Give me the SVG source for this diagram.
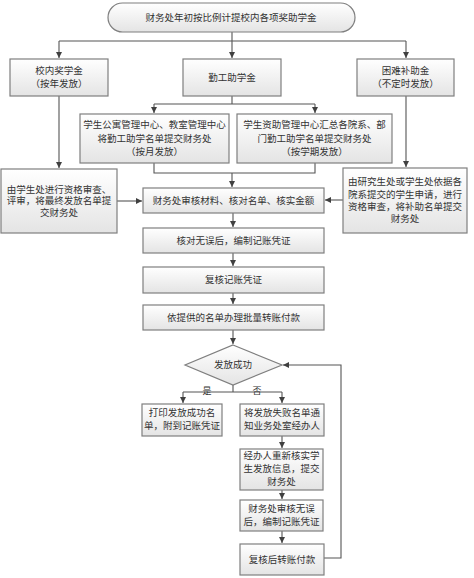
<svg xmlns="http://www.w3.org/2000/svg" width="474" height="578" viewBox="0 0 474 578">
<defs>
<linearGradient id="g" x1="0" y1="0" x2="0" y2="1">
<stop offset="0" stop-color="#ffffff"/>
<stop offset="1" stop-color="#e4e4e4"/>
</linearGradient>
<marker id="a" markerUnits="userSpaceOnUse" markerWidth="6" markerHeight="6" refX="6" refY="3" orient="auto">
<path d="M0,0 L6,3 L0,6 z" fill="#404040"/>
</marker>
<style>
.b{fill:url(#g);stroke:#7f7f7f;stroke-width:1.2}
.t{font-family:"Liberation Serif","Noto Sans CJK SC",serif;font-size:9.5px;fill:#333;text-anchor:middle;dominant-baseline:central}
.c{fill:none;stroke:#555;stroke-width:1.1}
.c2{fill:none;stroke:#555;stroke-width:1.1;marker-end:url(#a)}
</style>
</defs>
<rect width="474" height="578" fill="#fff"/>
<g id="connectors">
<path class="c2" d="M232,32 V58"/>
<path class="c" d="M59,41 H406"/>
<path class="c2" d="M59,41 V58"/>
<path class="c2" d="M406,41 V58"/>
<path class="c" d="M232,96 V104 M154,104 H315"/>
<path class="c2" d="M154,104 V113"/>
<path class="c2" d="M315,104 V113"/>
<path class="c" d="M154,163 V173 H315 V163"/>
<path class="c2" d="M232,173 V187"/>
<path class="c2" d="M59,96 V168"/>
<path class="c2" d="M406,96 V167"/>
<path class="c2" d="M117,201 H142"/>
<path class="c2" d="M343,200 H325"/>
<path class="c2" d="M233,213 V227"/>
<path class="c2" d="M233,253 V266"/>
<path class="c2" d="M233,293 V304"/>
<path class="c2" d="M233,330 V344"/>
<path class="c" d="M233,385 V392 M183,392 H282"/>
<path class="c2" d="M183,392 V403"/>
<path class="c2" d="M282,392 V403"/>
<text class="t" x="207" y="391" style="font-size:9px">是</text>
<text class="t" x="257" y="391" style="font-size:9px">否</text>
<path class="c2" d="M282,436 V448"/>
<path class="c2" d="M282,490 V499"/>
<path class="c2" d="M282,531 V543"/>
<path class="c2" d="M324,558 H341 V365 H283"/>
</g>
<g id="n0"><rect class="b" x="108" y="3" width="247" height="29" rx="14.5"/><text class="t" x="231" y="17.5">财务处年初按比例计提校内各项奖助学金</text></g>
<g id="n1"><rect class="b" x="10" y="59" width="98" height="37"/><text class="t" x="59" y="71">校内奖学金</text><text class="t" x="59" y="84">（按年发放）</text></g>
<g id="n2"><rect class="b" x="183" y="59" width="98" height="37"/><text class="t" x="232" y="77.5">勤工助学金</text></g>
<g id="n3"><rect class="b" x="357" y="59" width="97" height="37"/><text class="t" x="405.5" y="71">困难补助金</text><text class="t" x="405.5" y="84">（不定时发放）</text></g>
<g id="n4"><rect class="b" x="80" y="114" width="149" height="49"/><text class="t" x="154.5" y="125">学生公寓管理中心、教室管理中心</text><text class="t" x="154.5" y="138.5">将勤工助学名单提交财务处</text><text class="t" x="154.5" y="152">（按月发放）</text></g>
<g id="n5"><rect class="b" x="237" y="114" width="155" height="49"/><text class="t" x="314.5" y="125">学生资助管理中心汇总各院系、部</text><text class="t" x="314.5" y="138.5">门勤工助学名单提交财务处</text><text class="t" x="314.5" y="152">（按学期发放）</text></g>
<g id="n6"><rect class="b" x="1" y="169" width="116" height="64"/><text class="t" x="59" y="189.5">由学生处进行资格审查、</text><text class="t" x="59" y="201">评审，将最终发放名单提</text><text class="t" x="59" y="212.5">交财务处</text></g>
<g id="n7"><rect class="b" x="343" y="168" width="124" height="65"/><text class="t" x="405" y="182">由研究生处或学生处依据各</text><text class="t" x="405" y="194.5">院系提交的学生申请，进行</text><text class="t" x="405" y="207">资格审查，将补助名单提交</text><text class="t" x="405" y="219">财务处</text></g>
<g id="n8"><rect class="b" x="143" y="188" width="181" height="25"/><text class="t" x="233.5" y="200.5">财务处审核材料、核对名单、核实金额</text></g>
<g id="n9"><rect class="b" x="143" y="228" width="181" height="25"/><text class="t" x="233.5" y="240.5">核对无误后，编制记账凭证</text></g>
<g id="n10"><rect class="b" x="143" y="267" width="181" height="26"/><text class="t" x="233.5" y="280">复核记账凭证</text></g>
<g id="n11"><rect class="b" x="143" y="305" width="181" height="25"/><text class="t" x="233.5" y="317.5">依提供的名单办理批量转账付款</text></g>
<g id="n12"><polygon class="b" points="233,345 282,365 233,385 185,365"/><text class="t" x="233" y="365">发放成功</text></g>
<g id="n13"><rect class="b" x="142" y="404" width="80" height="32"/><text class="t" x="182" y="413">打印发放成功名</text><text class="t" x="182" y="426">单，附到记账凭证</text></g>
<g id="n14"><rect class="b" x="240" y="404" width="84" height="32"/><text class="t" x="282" y="413">将发放失败名单通</text><text class="t" x="282" y="426">知业务处室经办人</text></g>
<g id="n15"><rect class="b" x="240" y="449" width="83" height="41"/><text class="t" x="281.5" y="456">经办人重新核实学</text><text class="t" x="281.5" y="469">生发放信息，提交</text><text class="t" x="281.5" y="482">财务处</text></g>
<g id="n16"><rect class="b" x="240" y="500" width="83" height="31"/><text class="t" x="281.5" y="509">财务处审核无误</text><text class="t" x="281.5" y="522">后，编制记账凭证</text></g>
<g id="n17"><rect class="b" x="240" y="544" width="84" height="31"/><text class="t" x="282" y="559.5">复核后转账付款</text></g>
</svg>
